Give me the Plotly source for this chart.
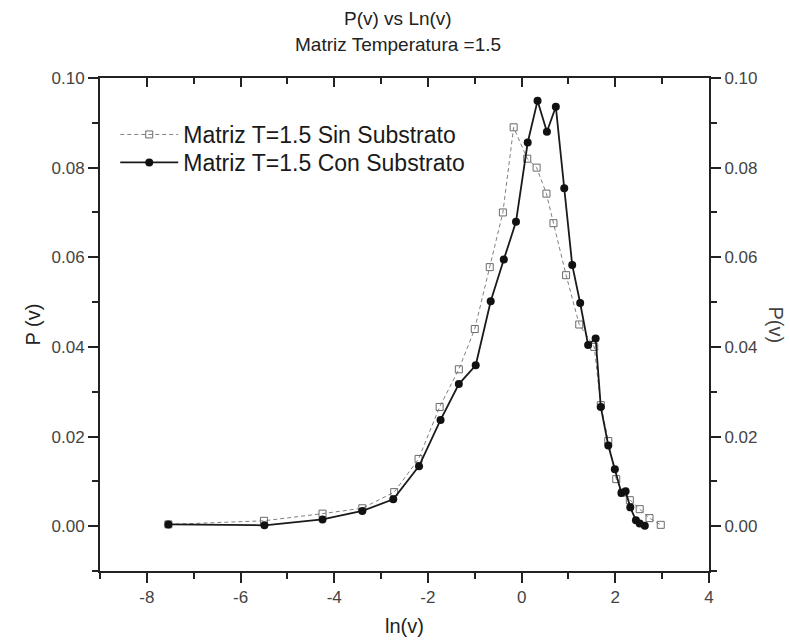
import plotly.graph_objects as go

# ---- data ----
con_x = [-7.54, -5.49, -4.25, -3.40, -2.74, -2.19, -1.73, -1.34, -0.98, -0.66,
         -0.38, -0.12, 0.13, 0.34, 0.54, 0.73, 0.91, 1.08, 1.25, 1.42,
         1.58, 1.69, 1.85, 1.99, 2.13, 2.22, 2.32, 2.44, 2.52, 2.63]
con_y = [0.0004, 0.0002, 0.0015, 0.0034, 0.0060, 0.0134, 0.0237, 0.0317, 0.0359, 0.0502,
         0.0595, 0.0679, 0.0856, 0.0949, 0.0880, 0.0936, 0.0754, 0.0583, 0.0498, 0.0404,
         0.0419, 0.0266, 0.0180, 0.0127, 0.0074, 0.0078, 0.0042, 0.0013, 0.0006, 0.0001]

sin_x = [-7.54, -5.50, -4.25, -3.40, -2.72, -2.20, -1.75, -1.34, -1.00, -0.68,
         -0.40, -0.17, 0.12, 0.32, 0.53, 0.68, 0.95, 1.23, 1.55, 1.69,
         1.85, 2.02, 2.15, 2.31, 2.52, 2.73, 2.97]
sin_y = [0.0004, 0.0012, 0.0028, 0.0040, 0.0076, 0.0150, 0.0266, 0.0350, 0.0440, 0.0578,
         0.0700, 0.0890, 0.0820, 0.0800, 0.0742, 0.0676, 0.0560, 0.0450, 0.0400, 0.0270,
         0.0190, 0.0105, 0.0075, 0.0058, 0.0038, 0.0018, 0.0003]

x_tickvals = [-8, -6, -4, -2, 0, 2, 4]
x_ticktext = ["-8", "-6", "-4", "-2", "0", "2", "4"]
y_tickvals = [0.00, 0.02, 0.04, 0.06, 0.08, 0.10]
y_ticktext = ["0.00", "0.02", "0.04", "0.06", "0.08", "0.10"]

name_sin = "Matriz T=1.5 Sin Substrato"
name_con = "Matriz T=1.5 Con Substrato"
title_main = "P(v) vs Ln(v)"
title_sub = "Matriz Temperatura =1.5"
x_title = "ln(v)"
y_title = "P (v)"
y2_title = "P(v)"

FONT = "Liberation Sans, Arial, sans-serif"
AX = "#222222"
TICKC = "#444444"

fig = go.Figure()
fig.add_trace(go.Scatter(
    x=sin_x, y=sin_y, name=name_sin, mode="lines+markers", legend="legend",
    line=dict(color="#808080", width=1, dash="4px,3px"),
    marker=dict(symbol="square-open", size=7, color="#6a6a6a", line=dict(width=1, color="#6a6a6a")),
))
fig.add_trace(go.Scatter(
    x=con_x, y=con_y, name=name_con, mode="lines+markers", legend="legend2",
    line=dict(color="#1a1a1a", width=1.8),
    marker=dict(symbol="circle", size=8, color="#111111"),
))
# empty helper trace so the mirrored top/right axes are drawn
fig.add_trace(go.Scatter(x=[None], y=[None], xaxis="x2", yaxis="y2",
                         showlegend=False, hoverinfo="skip"))

axis_common = dict(showline=True, linewidth=2, linecolor=AX, showgrid=False,
                   zeroline=False, tickcolor=AX, tickwidth=1.5,
                   tickfont=dict(family=FONT, size=17, color=TICKC))

legend_common = dict(x=0.025, xanchor="left", yanchor="top",
                     bgcolor="rgba(0,0,0,0)", borderwidth=0, itemwidth=58,
                     font=dict(family=FONT, size=23, color="#1a1a1a"))

fig.update_layout(
    width=790, height=642,
    margin=dict(l=100, r=81, t=78, b=71),
    paper_bgcolor="white", plot_bgcolor="white",
    font=dict(family=FONT, color="#222"),
    showlegend=True,
    legend=dict(y=(571 - 113) / 493, **legend_common),
    legend2=dict(y=(571 - 141) / 493, **legend_common),
    xaxis=dict(range=[-9, 4], tickmode="array", tickvals=x_tickvals, ticktext=x_ticktext,
               ticks="outside", ticklen=10,
               minor=dict(tickmode="linear", tick0=0, dtick=1, ticks="outside", ticklen=6, tickcolor=AX),
               **axis_common),
    xaxis2=dict(range=[-9, 4], overlaying="x", side="top", dtick=2, tick0=0,
                ticks="inside", ticklen=9, showticklabels=False,
                minor=dict(dtick=1, ticks="inside", ticklen=6, tickcolor=AX),
                **axis_common),
    yaxis=dict(range=[-0.01, 0.10], tickmode="array", tickvals=y_tickvals, ticktext=y_ticktext,
               ticks="outside", ticklen=10,
               minor=dict(tickmode="linear", tick0=0, dtick=0.01, ticks="outside", ticklen=6, tickcolor=AX),
               **axis_common),
    yaxis2=dict(range=[-0.01, 0.10], overlaying="y", side="right",
                tickmode="array", tickvals=y_tickvals, ticktext=y_ticktext,
                ticks="outside", ticklen=10,
                minor=dict(tickmode="linear", tick0=0, dtick=0.01, ticks="outside", ticklen=6, tickcolor=AX),
                **axis_common),
    annotations=[
        dict(text=title_main, xref="paper", yref="paper", x=0.49, y=1.0 + (78 - 19) / 493,
             showarrow=False, xanchor="center", yanchor="middle",
             font=dict(family=FONT, size=19, color="#222")),
        dict(text=title_sub, xref="paper", yref="paper", x=0.49, y=1.0 + (78 - 45) / 493,
             showarrow=False, xanchor="center", yanchor="middle",
             font=dict(family=FONT, size=19, color="#222")),
        dict(text=x_title, xref="paper", yref="paper", x=0.5, y=-(626 - 571) / 493,
             showarrow=False, xanchor="center", yanchor="middle",
             font=dict(family=FONT, size=20, color="#222")),
        dict(text=y_title, xref="paper", yref="paper", x=-(100 - 32) / 609, y=0.5,
             showarrow=False, xanchor="center", yanchor="middle", textangle=-90,
             font=dict(family=FONT, size=20, color="#222")),
        dict(text=y2_title, xref="paper", yref="paper", x=1.0 + (776 - 709) / 609, y=0.5,
             showarrow=False, xanchor="center", yanchor="middle", textangle=90,
             font=dict(family=FONT, size=20, color="#444")),
    ],
)

fig.write_html("out.html")
